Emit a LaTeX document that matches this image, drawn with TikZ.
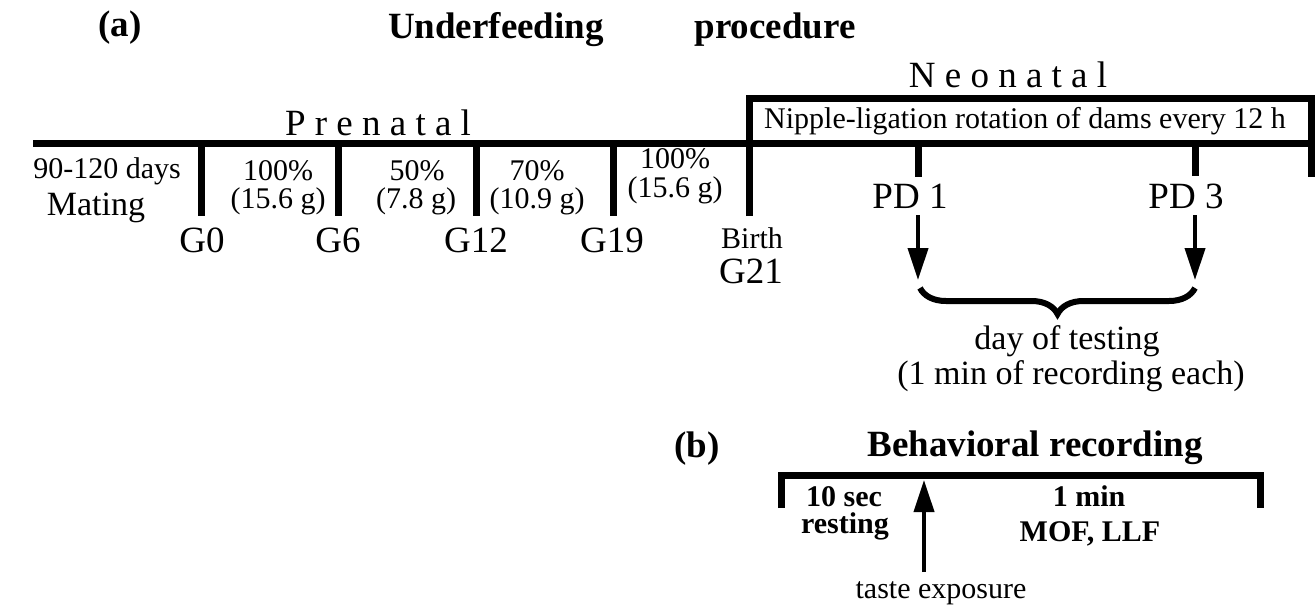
\documentclass[tikz,border=0pt]{standalone}
\usepackage{fontspec}
\setmainfont{Liberation Serif}
\usetikzlibrary{arrows.meta,decorations.pathreplacing}

\tikzset{
  tline/.style={line width=3.5pt},
  ptr/.style={line width=2pt, -{Triangle[length=16pt,width=10pt]}},
  txt/.style={inner sep=0pt, anchor=base, font=\fontsize{15}{17}\selectfont},
  midtxt/.style={txt, font=\fontsize{17}{19}\selectfont},
  bigtxt/.style={txt, font=\fontsize{18.5}{21}\selectfont},
  headtxt/.style={txt, font=\bfseries\fontsize{18.5}{21}\selectfont},
  boldtxt/.style={txt, font=\bfseries\fontsize{15}{17}\selectfont},
}

\begin{document}
\begin{tikzpicture}[x=0.5pt, y=-0.5pt]
        \def \tick {216}

        \useasboundingbox (0,0) rectangle (1315,611);

        \node[headtxt] (a) at (120,36) {(a)};
        \node[headtxt] (under) at (496,38) {Underfeeding};
        \node[headtxt] (proc) at (775,38) {procedure};
        \node[bigtxt] (pre) at (378,135) {P r e n a t a l};
        \node[bigtxt] (neo) at (1008,87) {N e o n a t a l};

        \coordinate (s) at (33,143);
        \coordinate (e) at (1311,143);
        \coordinate (t0) at (201,143);
        \coordinate (b0) at (201,\tick);
        \coordinate (t6) at (338,143);
        \coordinate (b6) at (338,\tick);
        \coordinate (t12) at (476,143);
        \coordinate (b12) at (476,\tick);
        \coordinate (t19) at (613,143);
        \coordinate (b19) at (613,\tick);
        \coordinate (bb) at (749,\tick);
        \coordinate (nw) at (749,98);
        \coordinate (ne) at (1311,98);
        \coordinate (se) at (1311,177);
        \coordinate (p1) at (918,143);
        \coordinate (q1) at (918,177);
        \coordinate (p3) at (1195,143);
        \coordinate (q3) at (1195,176);

        \draw[tline] (s) -- (e);
        \draw[tline] (t0) -- (b0);
        \draw[tline] (t6) -- (b6);
        \draw[tline] (t12) -- (b12);
        \draw[tline] (t19) -- (b19);
        \draw[tline] (bb) -- (nw) -- (ne) -- (se);
        \draw[tline] (p1) -- (q1);
        \draw[tline] (p3) -- (q3);

        \node[txt] (nip) at (1025,128) {Nipple-ligation rotation of dams every 12 h};

        \node[txt] (days) at (107,178) {90-120 days};
        \node[midtxt] (mat) at (96,215) {Mating};
        \node[txt] (f1) at (278,180) {100\%};
        \node[txt] (g1) at (278,208) {(15.6 g)};
        \node[txt] (f2) at (417,180) {50\%};
        \node[txt] (g2) at (416,208) {(7.8 g)};
        \node[txt] (f3) at (537,180) {70\%};
        \node[txt] (g3) at (537,208) {(10.9 g)};
        \node[txt] (f4) at (675,168) {100\%};
        \node[txt] (g4) at (675,197) {(15.6 g)};

        \node[bigtxt] (G0) at (202,252) {G0};
        \node[bigtxt] (G6) at (338,252) {G6};
        \node[bigtxt] (G12) at (476,252) {G12};
        \node[bigtxt] (G19) at (612,252) {G19};
        \node[txt] (birth) at (752,248) {Birth};
        \node[bigtxt] (G21) at (751,283) {G21};

        \node[bigtxt] (pd1) at (910,208) {PD 1};
        \node[bigtxt] (pd3) at (1186,208) {PD 3};

        \coordinate (a1) at (918,215);
        \coordinate (h1) at (918,280);
        \coordinate (a3) at (1195,215);
        \coordinate (h3) at (1195,280);
        \draw[ptr] (a1) -- (h1);
        \draw[ptr] (a3) -- (h3);

        \coordinate (bl) at (920,288);
        \coordinate (br) at (1195,288);
        \draw[line width=3pt, decorate, decoration={brace, mirror, amplitude=13pt}] (bl) -- (br);

        \node[midtxt] (test) at (1067,349) {day of testing};
        \node[midtxt] (each) at (1071,384) {(1 min of recording each)};

        \node[headtxt] (b) at (697,457) {(b)};
        \node[headtxt] (beh) at (1035,456) {Behavioral recording};

        \coordinate (rl) at (781,508);
        \coordinate (rtl) at (781,475);
        \coordinate (rtr) at (1260,475);
        \coordinate (rr) at (1260,508);
        \draw[tline] (rl) -- (rtl) -- (rtr) -- (rr);

        \node[boldtxt] (sec) at (844,506) {10 sec};
        \node[boldtxt] (rest) at (845,533) {resting};
        \node[boldtxt] (min) at (1089,506) {1 min};
        \node[boldtxt] (mof) at (1090,541) {MOF, LLF};

        \coordinate (x0) at (924,572);
        \coordinate (x1) at (924,480);
        \draw[ptr] (x0) -- (x1);
        \node[txt] (taste) at (941,598) {taste exposure};
      \end{tikzpicture}
\end{document}
